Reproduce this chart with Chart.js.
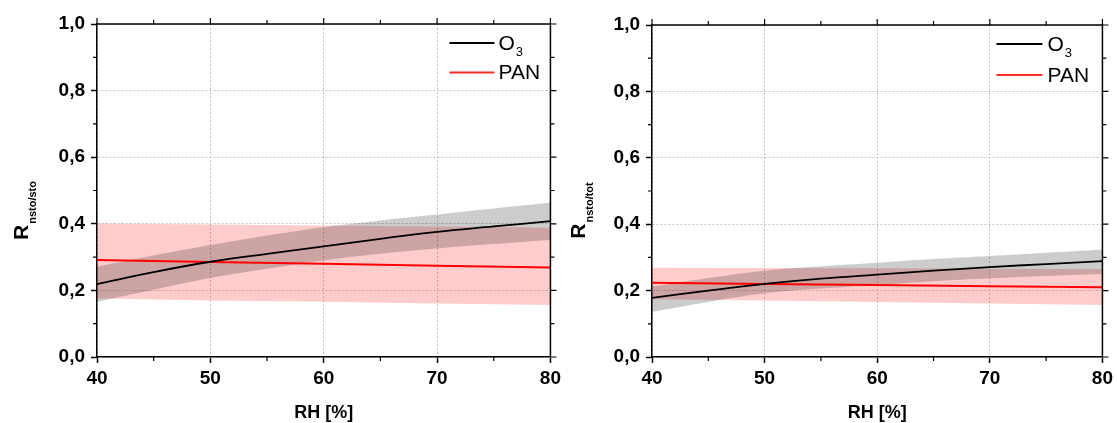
<!DOCTYPE html>
<html>
<head>
<meta charset="utf-8">
<script src="https://cdn.jsdelivr.net/npm/chart.js@4.4.0/dist/chart.umd.min.js"></script>
<style>
    html, body { margin: 0; padding: 0; background: #fff; }
    body { width: 1117px; height: 423px; position: relative; overflow: hidden; }
    .panel { position: absolute; top: 0; height: 423px; }
    #p1 { left: 0; width: 565px; }
    #p2 { left: 555px; width: 562px; }
</style>
</head>
<body>
<div class="panel" id="p1"><canvas id="c1"></canvas></div>
<div class="panel" id="p2"><canvas id="c2"></canvas></div>
<script>
// Humedad relativa (%)
const rh = [40, 45, 50, 55, 60, 65, 70, 75, 80];
const rhPan = [40, 50, 60, 70, 80];

// Panel izquierdo: R nsto/sto
const o3Sto = [0.219, 0.255, 0.286, 0.310, 0.332, 0.355, 0.376, 0.392, 0.408];
const o3StoHi = [0.272, 0.305, 0.336, 0.365, 0.390, 0.410, 0.428, 0.446, 0.463];
const o3StoLo = [0.166, 0.202, 0.237, 0.265, 0.290, 0.310, 0.326, 0.339, 0.351];
const panSto = [0.291, 0.285, 0.280, 0.274, 0.269];
const panStoHi = [0.401, 0.398, 0.395, 0.392, 0.388];
const panStoLo = [0.176, 0.170, 0.166, 0.161, 0.156];

// Panel derecho: R nsto/tot
const o3Tot = [0.178, 0.200, 0.220, 0.236, 0.248, 0.260, 0.271, 0.280, 0.289];
const o3TotHi = [0.212, 0.238, 0.260, 0.273, 0.284, 0.295, 0.304, 0.314, 0.324];
const o3TotLo = [0.136, 0.166, 0.192, 0.206, 0.217, 0.228, 0.237, 0.244, 0.250];
const panTot = [0.224, 0.220, 0.217, 0.213, 0.210];
const panTotHi = [0.269, 0.268, 0.267, 0.266, 0.265];
const panTotLo = [0.174, 0.170, 0.166, 0.161, 0.157];

const FONT = '"Liberation Sans", Arial, Helvetica, sans-serif';
const pts = (xs, ys) => xs.map((x, i) => ({ x: x, y: ys[i] }));

// Marco, ticks menores, titulos de ejes y leyenda
const decor = {
    id: 'decor',
    afterDraw(chart, args, opts) {
        const { ctx, chartArea: a, scales: { x, y } } = chart;
        ctx.save();
        ctx.strokeStyle = '#000';
        ctx.lineWidth = 1.5;
        ctx.beginPath();
        ctx.moveTo(a.left, a.top);
        ctx.lineTo(a.right, a.top);
        ctx.lineTo(a.right, a.bottom);
        ctx.stroke();

        ctx.lineWidth = 1.2;
        ctx.beginPath();
        const xt = x.ticks.map(t => t.value);
        xt.forEach((v, i) => {
            const px = x.getPixelForValue(v);
            ctx.moveTo(px, a.top); ctx.lineTo(px, a.top - 6);
            if (i < xt.length - 1) {
                const pm = x.getPixelForValue((v + xt[i + 1]) / 2);
                ctx.moveTo(pm, a.bottom); ctx.lineTo(pm, a.bottom + 4);
                ctx.moveTo(pm, a.top); ctx.lineTo(pm, a.top - 4);
            }
        });
        const yt = y.ticks.map(t => t.value);
        yt.forEach((v, i) => {
            const py = y.getPixelForValue(v);
            ctx.moveTo(a.right, py); ctx.lineTo(a.right + 6, py);
            if (i < yt.length - 1) {
                const pm = y.getPixelForValue((v + yt[i + 1]) / 2);
                ctx.moveTo(a.left, pm); ctx.lineTo(a.left - 4, pm);
                ctx.moveTo(a.right, pm); ctx.lineTo(a.right + 4, pm);
            }
        });
        ctx.stroke();

        // titulo eje X
        ctx.fillStyle = '#000';
        ctx.font = 'bold 18px ' + FONT;
        ctx.textAlign = 'center';
        ctx.textBaseline = 'middle';
        ctx.fillText('RH [%]', (a.left + a.right) / 2, 413);

        // titulo eje Y con subindice
        ctx.save();
        ctx.translate(opts.titleX, opts.titleY);
        ctx.rotate(-Math.PI / 2);
        ctx.textAlign = 'left';
        ctx.textBaseline = 'alphabetic';
        ctx.font = 'bold 21px ' + FONT;
        const wR = ctx.measureText('R').width;
        ctx.font = 'bold 11px ' + FONT;
        const wS = ctx.measureText(opts.sub).width;
        const x0 = -(wR + wS) / 2;
        ctx.font = 'bold 21px ' + FONT;
        ctx.fillText('R', x0, 0);
        ctx.font = 'bold 11px ' + FONT;
        ctx.fillText(opts.sub, x0 + wR + 1, 8);
        ctx.restore();

        // leyenda
        const rows = [
            { label: 'O', sub: '3', color: '#000', dy: opts.row1 },
            { label: 'PAN', sub: '', color: '#ff2a2a', dy: opts.row2 }
        ];
        rows.forEach(r => {
            const ly = a.top + r.dy;
            ctx.strokeStyle = r.color;
            ctx.lineWidth = 2;
            ctx.beginPath();
            ctx.moveTo(a.right - opts.lx1, ly);
            ctx.lineTo(a.right - opts.lx2, ly);
            ctx.stroke();
            ctx.fillStyle = '#000';
            ctx.textAlign = 'left';
            ctx.textBaseline = 'middle';
            ctx.font = '21px ' + FONT;
            ctx.fillText(r.label, a.right - opts.tx, ly + 1);
            if (r.sub) {
                const w = ctx.measureText(r.label).width;
                ctx.font = '13px ' + FONT;
                ctx.fillText(r.sub, a.right - opts.tx + w + 1, ly + 9);
            }
        });
        ctx.restore();
    }
};

function makeChart(id, o3, o3Hi, o3Lo, pan, panHi, panLo, deco, padTop) {
    const tickFont = { family: FONT, size: 19, weight: 'bold' };
    return new Chart(document.getElementById(id), {
        type: 'line',
        data: {
            datasets: [
                { data: pts(rh, o3), borderColor: '#000', borderWidth: 1.8, fill: false, tension: 0.4 },
                { data: pts(rhPan, pan), borderColor: '#ff0000', borderWidth: 2, fill: false, tension: 0 },
                { data: pts(rh, o3Hi), borderWidth: 0, borderColor: 'rgba(0,0,0,0)', backgroundColor: 'rgba(0,0,0,0.2)', fill: '+1', tension: 0.4 },
                { data: pts(rh, o3Lo), borderWidth: 0, borderColor: 'rgba(0,0,0,0)', fill: false, tension: 0.4 },
                { data: pts(rhPan, panHi), borderWidth: 0, borderColor: 'rgba(0,0,0,0)', backgroundColor: 'rgba(255,0,0,0.2)', fill: '+1', tension: 0 },
                { data: pts(rhPan, panLo), borderWidth: 0, borderColor: 'rgba(0,0,0,0)', fill: false, tension: 0 }
            ]
        },
        options: {
            responsive: true,
            maintainAspectRatio: false,
            animation: false,
            layout: { padding: { top: padTop, right: 14, left: 0, bottom: 0 } },
            elements: { point: { radius: 0 } },
            plugins: {
                legend: { display: false },
                tooltip: { enabled: false },
                decor: deco
            },
            scales: {
                x: {
                    type: 'linear', min: 40, max: 80,
                    ticks: { stepSize: 10, font: tickFont, color: '#000', padding: 4, maxRotation: 0 },
                    grid: { color: '#c4c4c4', tickColor: '#000', tickLength: 6, tickWidth: 1.5 },
                    border: { color: '#000', width: 1.5, dash: [2, 2] },
                    afterFit: s => { s.height = 66; }
                },
                y: {
                    min: 0, max: 1,
                    ticks: {
                        stepSize: 0.2, font: tickFont, color: '#000', padding: 6,
                        callback: v => v.toFixed(1).replace('.', ',')
                    },
                    grid: { color: '#c4c4c4', tickColor: '#000', tickLength: 6, tickWidth: 1.5 },
                    border: { color: '#000', width: 1.5, dash: [2, 2] },
                    afterFit: s => { s.width = 97; }
                }
            }
        },
        plugins: [decor]
    });
}

makeChart('c1', o3Sto, o3StoHi, o3StoLo, panSto, panStoHi, panStoLo,
    { titleX: 28, titleY: 211, sub: 'nsto/sto', row1: 19, row2: 48.5, lx1: 101, lx2: 56, tx: 52 }, 24);
makeChart('c2', o3Tot, o3TotHi, o3TotLo, panTot, panTotHi, panTotLo,
    { titleX: 30, titleY: 211, sub: 'nsto/tot', row1: 19, row2: 50, lx1: 106, lx2: 60, tx: 55 }, 25);
</script>
</body>
</html>
